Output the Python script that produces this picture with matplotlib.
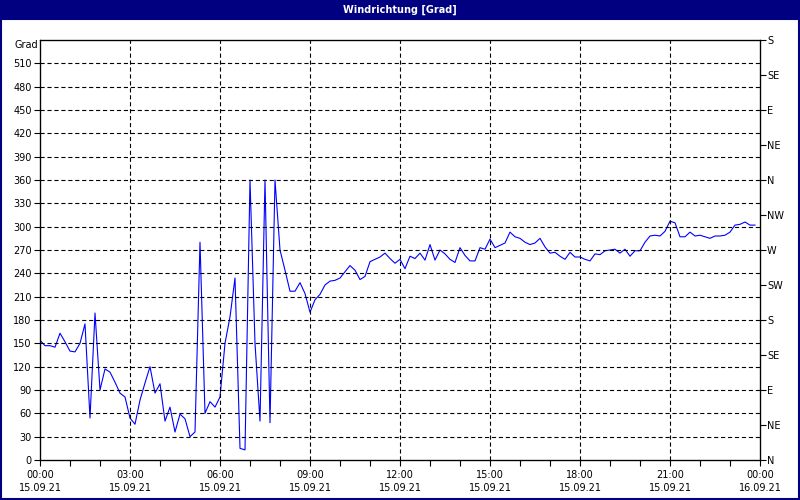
import numpy as np
import matplotlib
matplotlib.use("Agg")
import matplotlib.pyplot as plt
from matplotlib.patches import Rectangle

# ---------------------------------------------------------------------
# data: wind direction every 10 minutes, 15.09.21 00:00 .. 23:50
# ---------------------------------------------------------------------
direction = [
    154, 147, 147, 145, 163, 152, 140, 139, 150, 175,
    54, 189, 90, 117, 113, 100, 86, 81, 54, 46,
    77, 99, 120, 86, 98, 50, 68, 36, 59, 53,
    30, 36, 280, 60, 75, 68, 81, 150, 184, 234,
    15, 13, 360, 150, 50, 360, 48, 360, 270, 244,
    217, 217, 228, 214, 190, 206, 213, 225, 230, 231,
    234, 242, 250, 244, 232, 236, 255, 258, 261, 266,
    259, 253, 258, 246, 262, 259, 266, 257, 277, 257,
    270, 265, 258, 254, 273, 263, 256, 256, 273, 271,
    284, 273, 276, 279, 293, 287, 285, 280, 277, 279,
    285, 274, 266, 267, 262, 258, 267, 261, 261, 258,
    256, 265, 264, 269, 270, 271, 266, 271, 262, 269,
    269, 280, 288, 289, 288, 294, 307, 305, 287, 287,
    293, 288, 289, 287, 285, 288, 288, 289, 293, 302,
    303, 306, 302, 302,
]
hours = np.arange(len(direction)) * 10 / 60

xtick_hours = [0, 3, 6, 9, 12, 15, 18, 21, 24]
xtick_labels = ["00:00\n15.09.21", "03:00\n15.09.21", "06:00\n15.09.21",
                "09:00\n15.09.21", "12:00\n15.09.21", "15:00\n15.09.21",
                "18:00\n15.09.21", "21:00\n15.09.21", "00:00\n16.09.21"]
left_ticks = list(range(0, 511, 30))
right_ticks = list(range(0, 541, 45))
right_labels = ["N", "NE", "E", "SE", "S", "SW", "W", "NW",
                "N", "NE", "E", "SE", "S"]

plt.rcParams["font.family"] = "DejaVu Sans"
plt.rcParams["lines.scale_dashes"] = False
navy = "#000080"

fig = plt.figure(figsize=(8, 5), dpi=100)
fig.patch.set_facecolor("white")

# title bar + window frame
fig.add_artist(Rectangle((0, 0.96), 1, 0.04, transform=fig.transFigure,
                         facecolor=navy, edgecolor="none"))
fig.add_artist(Rectangle((0.001, 0.003), 0.998, 0.96, transform=fig.transFigure,
                         facecolor="none", edgecolor=navy, linewidth=1.5))
fig.text(0.5, 0.98, "Windrichtung [Grad]", color="white", fontsize=7,
         fontweight="bold", ha="center", va="center")

ax = fig.add_axes([0.05, 0.08, 0.90, 0.84])
ax.plot(hours, direction, color="#0000ff", linewidth=0.8)

ax.set_xlim(0, 24)
ax.set_ylim(0, 540)
ax.set_xticks(xtick_hours)
ax.set_xticklabels(xtick_labels, fontsize=7, linespacing=1.45)
ax.set_xticks(range(0, 25), minor=True)
ax.set_yticks(left_ticks)
ax.tick_params(axis="y", labelsize=7, length=4, width=0.8, pad=2)
ax.tick_params(axis="x", which="both", length=4, width=0.8, pad=3)

for y in left_ticks[1:]:
    ax.axhline(y, color="black", linewidth=0.8, dashes=(3, 2))
for x in xtick_hours[1:-1]:
    ax.axvline(x, color="black", linewidth=0.8, dashes=(3, 2))

for sp in ax.spines.values():
    sp.set_linewidth(0.9)

ax.text(-0.003, 1.0, "Grad", transform=ax.transAxes, fontsize=7,
        ha="right", va="top")

ax2 = ax.twinx()
ax2.set_ylim(0, 540)
ax2.set_yticks(right_ticks)
ax2.set_yticklabels(right_labels)
ax2.tick_params(axis="y", labelsize=7, length=4, width=0.8, pad=1)

fig.savefig("out.png", dpi=100)
